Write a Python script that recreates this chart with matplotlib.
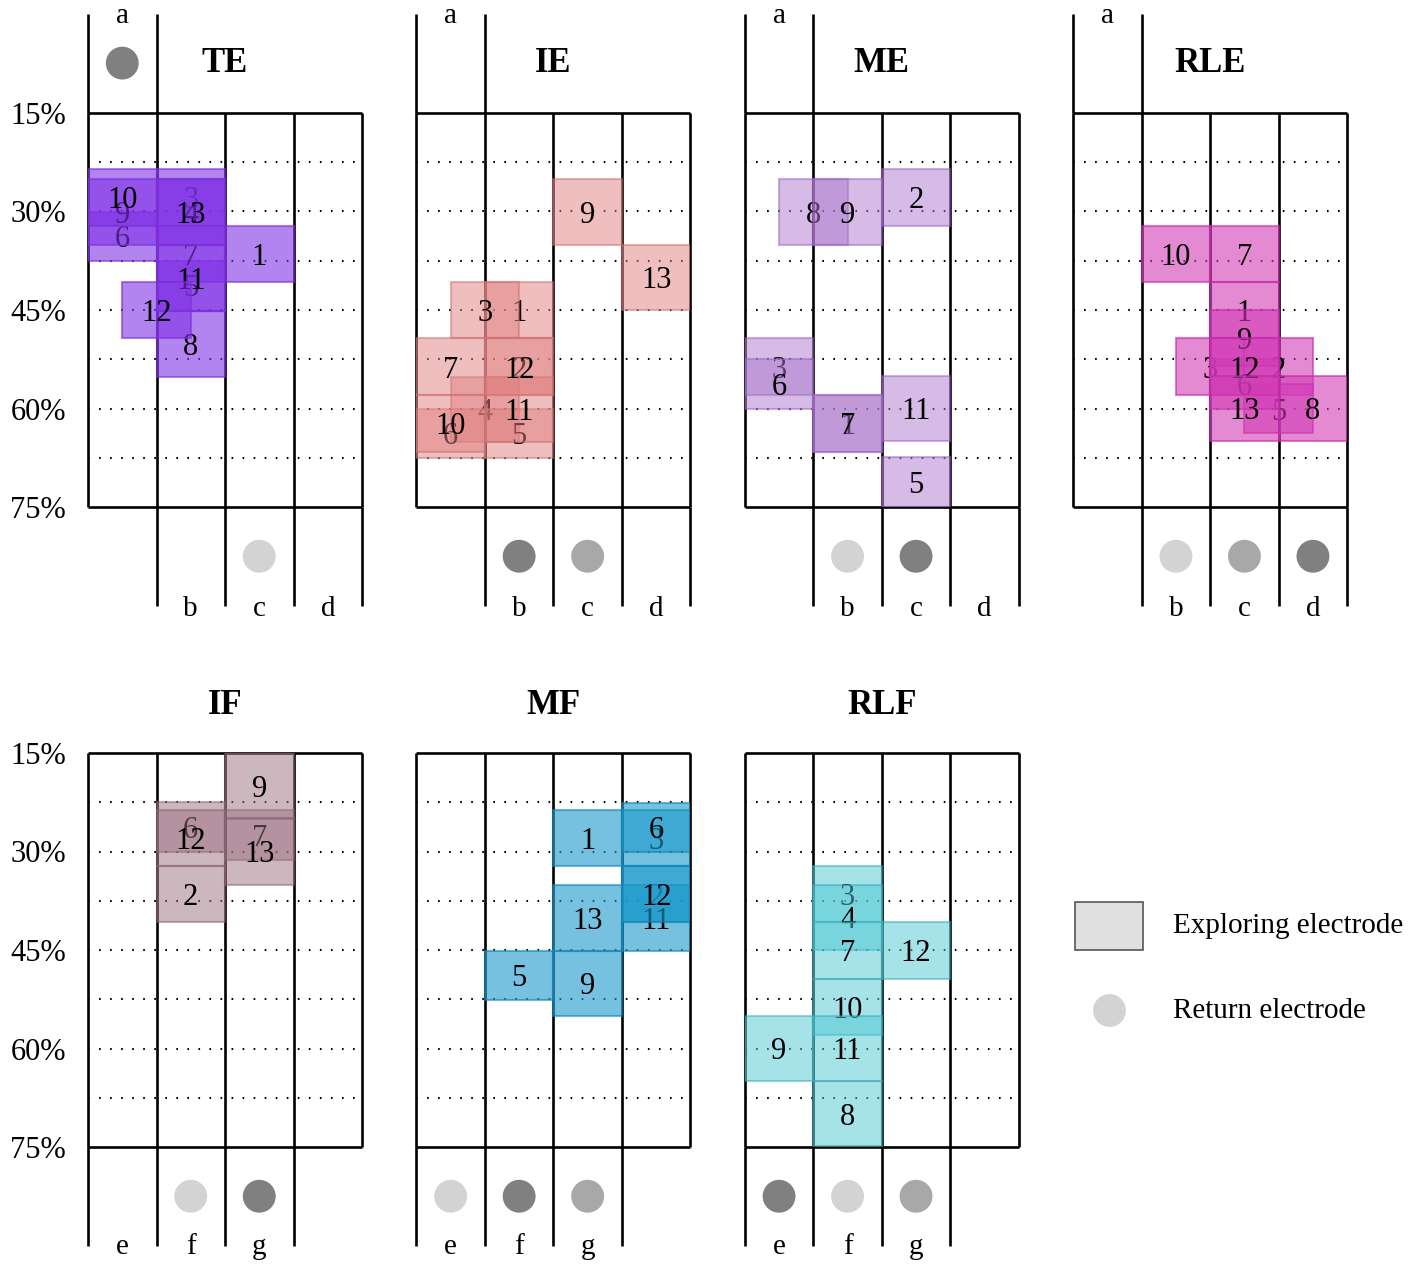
# Electrode positions per condition (exploring + return electrodes)

import matplotlib.pyplot as plt

plt.rcParams['font.family'] = ['Liberation Serif', 'DejaVu Serif']

# Grid rows (percent) and dotted guide lines
y_ticks = [15, 30, 45, 60, 75]
y_tick_labels = ["15%", "30%", "45%", "60%", "75%"]
dotted_y = [22.5, 30, 37.5, 45, 52.5, 60, 67.5]

# Exploring electrodes: id, left column, top %, bottom %
te_ids = [1, 3, 4, 5, 6, 7, 8, 9, 10, 11, 12, 13]
te_col = [2, 1, 1, 1, 0, 1, 1, 0, 0, 1, 0.5, 1]
te_top = [32.2, 23.5, 25.0, 37.5, 30.1, 32.2, 45.1, 25.0, 23.5, 35.1, 40.7, 25.0]
te_bot = [40.7, 32.2, 35.1, 45.1, 37.5, 40.7, 55.2, 35.1, 32.2, 45.1, 49.3, 35.1]

ie_ids = [1, 2, 3, 4, 5, 6, 7, 9, 10, 11, 12, 13]
ie_col = [1, 1, 0.5, 0.5, 1, 0, 0, 2, 0, 1, 1, 3]
ie_top = [40.7, 49.3, 40.7, 55.2, 60.0, 60.0, 49.3, 25.0, 58.0, 55.2, 49.3, 35.1]
ie_bot = [49.3, 58.0, 49.3, 65.1, 67.6, 67.6, 58.0, 35.1, 66.6, 65.1, 58.0, 45.0]

me_ids = [1, 2, 3, 5, 6, 7, 8, 9, 11]
me_col = [1, 2, 0, 2, 0, 1, 0.5, 1, 2]
me_top = [58.0, 23.6, 49.3, 67.4, 52.5, 58.0, 25.0, 25.0, 55.0]
me_bot = [66.6, 32.2, 58.0, 75.0, 60.0, 66.6, 35.1, 35.1, 65.0]

rle_ids = [1, 2, 3, 5, 6, 7, 8, 9, 10, 12, 13]
rle_col = [2, 2.5, 1.5, 2.5, 2, 2, 3, 2, 1, 2, 2]
rle_top = [40.8, 49.3, 49.3, 56.3, 52.5, 32.2, 55.0, 45.0, 32.2, 49.3, 55.0]
rle_bot = [49.3, 58.0, 58.0, 63.8, 60.1, 40.8, 65.0, 53.6, 40.8, 58.0, 65.0]

if_ids = [2, 6, 7, 9, 12, 13]
if_col = [1, 1, 2, 2, 1, 2]
if_top = [32.2, 22.5, 23.7, 15.0, 23.7, 24.9]
if_bot = [40.8, 30.0, 31.3, 25.0, 32.2, 35.1]

mf_ids = [1, 2, 3, 5, 6, 9, 11, 12, 13]
mf_col = [2, 3, 3, 1, 3, 2, 3, 3, 2]
mf_top = [23.7, 32.2, 23.7, 45.1, 22.6, 45.1, 35.1, 32.2, 35.1]
mf_bot = [32.2, 40.8, 32.2, 52.6, 30.0, 55.0, 45.1, 40.8, 45.1]

rlf_ids = [3, 4, 7, 8, 9, 10, 11, 12]
rlf_col = [1, 1, 1, 1, 0, 1, 1, 2]
rlf_top = [32.2, 35.1, 40.7, 65.0, 55.0, 49.4, 55.0, 40.7]
rlf_bot = [40.7, 45.0, 49.4, 74.9, 65.0, 58.0, 65.0, 49.4]

# Return electrodes: column centre, row (%), grey level
dark, mid, light = '#808080', '#a8a8a8', '#d3d3d3'
te_ret = ([0.5, 2.5], [7.4, 82.5], [dark, light])
ie_ret = ([1.5, 2.5], [82.5, 82.5], [dark, mid])
me_ret = ([1.5, 2.5], [82.5, 82.5], [light, dark])
rle_ret = ([1.5, 2.5, 3.5], [82.5, 82.5, 82.5], [light, mid, dark])
if_ret = ([1.5, 2.5], [82.5, 82.5], [light, dark])
mf_ret = ([0.5, 1.5, 2.5], [82.5, 82.5, 82.5], [light, dark, mid])
rlf_ret = ([0.5, 1.5, 2.5], [82.5, 82.5, 82.5], [dark, light, mid])

W, H = 1418, 1266
fig = plt.figure(figsize=(W / 100, H / 100), dpi=100)
LW = 1.9


def panel_axes(i, row):
    left = 88 + i * 328.4
    top = 113 if row == 0 else 753
    return fig.add_axes([left / W, (H - top - 394) / H, 274 / W, 394 / H])


def draw_panel(ax, title, ids, cols, tops, bots, color, alpha, edge, ret,
               row, show_y):
    ax.set_xlim(0, 4)
    ax.set_ylim(75, 15)
    for s in ax.spines.values():
        s.set_visible(False)
    ax.set_xticks([])
    if show_y:
        ax.set_yticks(y_ticks)
        ax.set_yticklabels(y_tick_labels)
        ax.tick_params(axis='y', length=0, pad=16, labelsize=22)
    else:
        ax.set_yticks([])

    ax.hlines(dotted_y, 0, 4, colors='k', linestyles=(0, (0.8, 4.5)),
              lw=1.5, zorder=0.5)
    ax.vlines([0, 1, 2, 3, 4], 15, 75, colors='k', lw=LW, zorder=1,
              clip_on=False)
    ax.hlines([15, 75], 0, 4, colors='k', lw=LW, zorder=1, clip_on=False)

    if row == 0:
        ax.vlines([0, 1], 0, 15, colors='k', lw=LW, clip_on=False)
        ax.vlines([1, 2, 3, 4], 75, 90, colors='k', lw=LW, clip_on=False)
        ax.text(0.5, 1.3, 'a', ha='center', va='baseline', fontsize=21)
        for x, t in zip([1.5, 2.5, 3.5], ['b', 'c', 'd']):
            ax.text(x, 91.6, t, ha='center', va='baseline', fontsize=21)
        ty = 7.4
    else:
        ax.vlines([0, 1, 2, 3], 75, 90, colors='k', lw=LW, clip_on=False)
        for x, t in zip([0.5, 1.5, 2.5], ['e', 'f', 'g']):
            ax.text(x, 91.3, t, ha='center', va='baseline', fontsize=21)
        ty = 7.7

    ax.text(2, ty, title, ha='center', va='center', fontsize=25,
            fontweight='bold')

    for k, (n, c, t, b) in enumerate(zip(ids, cols, tops, bots)):
        ax.bar(c + 0.5, b - t, bottom=t, width=1, color=color, alpha=alpha,
               edgecolor=edge, linewidth=1.5, zorder=2 + k)
        ax.text(c + 0.5, (t + b) / 2 + 0.5, str(n), ha='center',
                va='center', fontsize=22, zorder=2.5 + k)

    ax.scatter(ret[0], ret[1], s=560, c=ret[2], linewidths=0,
               clip_on=False, zorder=1)


draw_panel(panel_axes(0, 0), 'TE', te_ids, te_col, te_top, te_bot,
           '#8032e6', 0.6, '#7a2fd6', te_ret, 0, True)
draw_panel(panel_axes(1, 0), 'IE', ie_ids, ie_col, ie_top, ie_bot,
           '#e18181', 0.5, '#cc6f6f', ie_ret, 0, False)
draw_panel(panel_axes(2, 0), 'ME', me_ids, me_col, me_top, me_bot,
           '#ad79cd', 0.5, '#9a62c0', me_ret, 0, False)
draw_panel(panel_axes(3, 0), 'RLE', rle_ids, rle_col, rle_top, rle_bot,
           '#d23cb7', 0.6, '#c02aa8', rle_ret, 0, False)
draw_panel(panel_axes(0, 1), 'IF', if_ids, if_col, if_top, if_bot,
           '#9b7181', 0.5, '#85606e', if_ret, 1, True)
draw_panel(panel_axes(1, 1), 'MF', mf_ids, mf_col, mf_top, mf_bot,
           '#1b99cb', 0.6, '#1585b5', mf_ret, 1, False)
draw_panel(panel_axes(2, 1), 'RLF', rlf_ids, rlf_col, rlf_top, rlf_bot,
           '#4dc9d5', 0.5, '#3aa9b3', rlf_ret, 1, False)

# Legend in the empty slot
lg = panel_axes(3, 1)
lg.set_xlim(0, 4)
lg.set_ylim(75, 15)
lg.axis('off')
lg.bar(0.525, 7.3, bottom=37.7, width=0.99, color='#e0e0e0',
       edgecolor='#555555', linewidth=1.2)
lg.scatter([0.525], [54.1], s=560, c=light, linewidths=0)
lg.text(1.45, 41.3, 'Exploring electrode', va='center', fontsize=21)
lg.text(1.45, 54.3, 'Return electrode', va='center', fontsize=21)

fig.savefig('out.png', dpi=100)
